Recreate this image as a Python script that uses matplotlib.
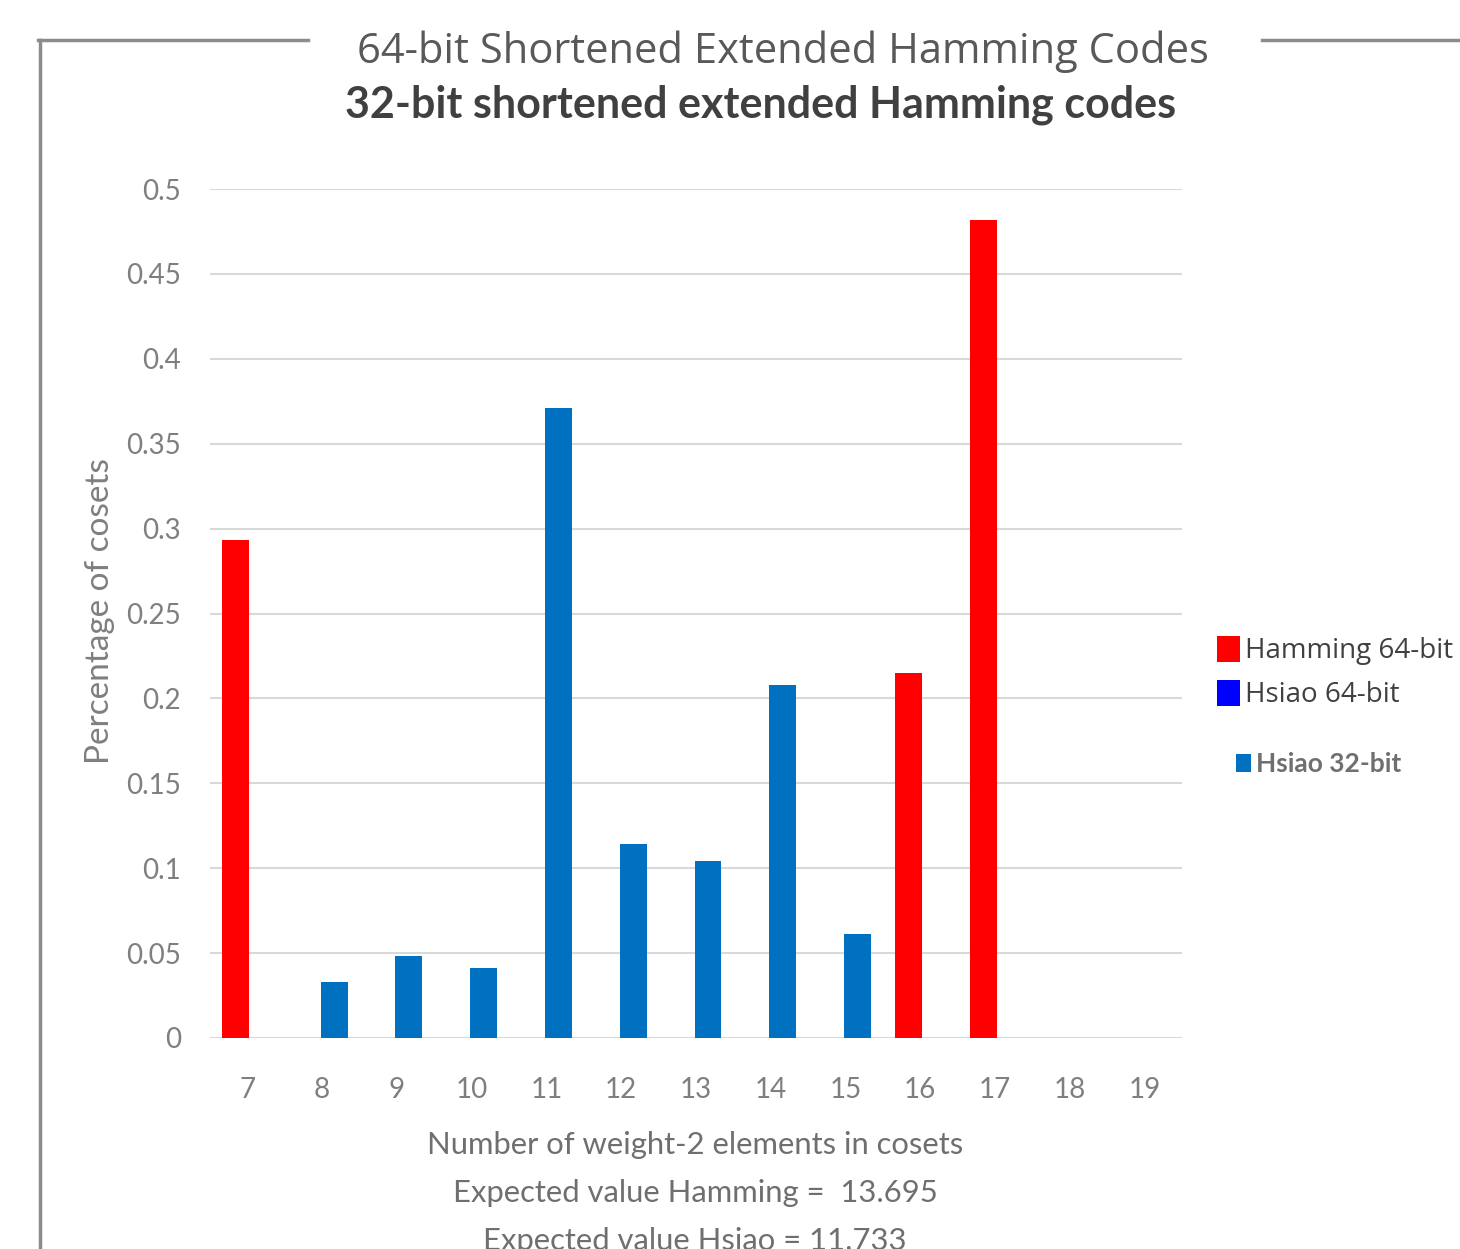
import matplotlib
matplotlib.use("Agg")
import matplotlib.pyplot as plt
import numpy as np
from matplotlib.lines import Line2D
from matplotlib.patches import Patch

# ---- data ----
categories = [7, 8, 9, 10, 11, 12, 13, 14, 15, 16, 17, 18, 19]
hamming_64 = [0.293, 0, 0, 0, 0, 0, 0, 0, 0, 0.215, 0.482, 0, 0]
hsiao_32 = [0, 0.033, 0.048, 0.041, 0.371, 0.114, 0.104, 0.208, 0.061, 0, 0, 0, 0]
yticks = [0, 0.05, 0.1, 0.15, 0.2, 0.25, 0.3, 0.35, 0.4, 0.45, 0.5]
ytick_labels = ["0", "0.05", "0.1", "0.15", "0.2", "0.25", "0.3", "0.35", "0.4", "0.45", "0.5"]
title = "64-bit Shortened Extended Hamming Codes"
subtitle = "32-bit shortened extended Hamming codes"
ylabel = "Percentage of cosets"
xlabel_lines = ["Number of weight-2 elements in cosets",
                "Expected value Hamming =  13.695",
                "Expected value Hsiao = 11.733"]
legend_main = ["Hamming 64-bit", "Hsiao 64-bit"]
legend_old = "Hsiao 32-bit"

colors = {"Hamming 64-bit": "#FF0000", "Hsiao 64-bit": "#0000FF", "Hsiao 32-bit": "#0070C0"}

W, H = 1460, 1249
fig = plt.figure(figsize=(W / 100, H / 100), dpi=100)
fig.patch.set_facecolor("white")

lato = ["Lato", "DejaVu Sans"]
opens = ["Open Sans", "DejaVu Sans"]

def fx(px):
    return px / W

def fy(py):
    return 1 - py / H

ax = fig.add_axes([fx(210), fy(1038), fx(1182) - fx(210), fy(189) - fy(1038)])
x = np.array(categories, dtype=float)
bw = 0.36
off = 0.16
ax.bar(x - off, hamming_64, width=bw, color=colors["Hamming 64-bit"], zorder=3)
ax.bar(x + off, hsiao_32, width=bw, color=colors["Hsiao 32-bit"], zorder=3)
ax.set_xlim(6.5, 19.5)
ax.set_ylim(0, 0.5)
ax.set_yticks(yticks)
ax.set_yticklabels(ytick_labels)
ax.set_xticks(categories)
ax.set_xticklabels([str(c) for c in categories])
ax.yaxis.grid(True, color="#d9d9d9", linewidth=1.5, zorder=0)
ax.set_axisbelow(True)
for s in ax.spines.values():
    s.set_visible(False)
ax.tick_params(axis="both", length=0, colors="#7f7f7f", labelsize=20)
ax.tick_params(axis="y", pad=21)
ax.tick_params(axis="x", pad=28)
for lab in ax.get_xticklabels() + ax.get_yticklabels():
    lab.set_fontfamily(lato)

fig.text(fx(100), fy(611), ylabel, rotation=90, ha="center", va="center",
         fontsize=24, color="#7f7f7f", family=lato)

for i, line in enumerate(xlabel_lines):
    fig.text(fx(695), fy(1145 + 48 * i), line, ha="center", va="center",
             fontsize=22.3, color="#6f6f6f", family=lato)

# frame lines
fig.add_artist(Line2D([fx(38), fx(308)], [fy(40), fy(40)], color="#8c8c8c", lw=2.5))
fig.add_artist(Line2D([fx(1262), fx(1460)], [fy(40), fy(40)], color="#8c8c8c", lw=2.5))
fig.add_artist(Line2D([fx(40), fx(40)], [fy(40), fy(1249)], color="#8c8c8c", lw=2.5))

fig.text(fx(783), fy(52), title, ha="center", va="center", fontsize=30,
         color="#595959", family=opens)
fig.text(fx(761), fy(105), subtitle, ha="center", va="center", fontsize=31,
         color="#404040", family=lato, fontweight="bold")

handles = [Patch(facecolor=colors[n], edgecolor="none") for n in legend_main]
fig.legend(handles, legend_main, loc="upper left",
           bbox_to_anchor=(fx(1211), fy(630)), frameon=False,
           prop={"family": opens, "size": 20}, labelcolor="#404040",
           handlelength=0.86, handleheight=1.08, handletextpad=0.15,
           labelspacing=0.52, borderpad=0.2, borderaxespad=0)
fig.legend([Patch(facecolor=colors["Hsiao 32-bit"], edgecolor="none")], [legend_old],
           loc="upper left", bbox_to_anchor=(fx(1231), fy(747)), frameon=False,
           prop={"family": lato, "size": 19, "weight": "bold"}, labelcolor="#6f6f6f",
           handlelength=0.55, handleheight=0.7, handletextpad=0.2, borderpad=0.2,
           borderaxespad=0)

fig.savefig("out.png", dpi=100)
